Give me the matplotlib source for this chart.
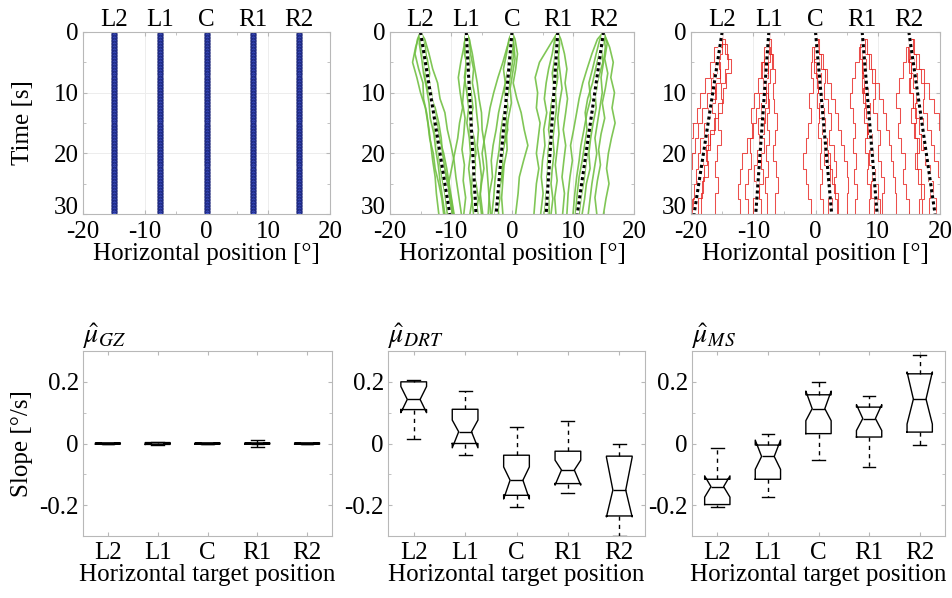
import numpy as np
import matplotlib
matplotlib.use('Agg')
import matplotlib.pyplot as plt
from matplotlib.ticker import MultipleLocator, FixedLocator, FixedFormatter

plt.rcParams['font.family'] = ['Liberation Serif', 'DejaVu Serif']
plt.rcParams['mathtext.fontset'] = 'stix'
plt.rcParams['axes.unicode_minus'] = False

labels = ['L2', 'L1', 'C', 'R1', 'R2']
targets = [-15, -7.5, 0, 7.5, 15]

# gaze (GZ) samples: eyes stay on the target
gz_time = np.arange(0, 30.01, 0.25)

# sample times [s] of the traces (three recording grids)
t_a = [0, 2.5, 5, 7.5, 10, 12.5, 15, 17.5, 20, 22.5, 25, 27.5, 30]
t_b = [0, 1.2, 3.6, 6.1, 8.4, 11.0, 13.3, 16.1, 18.7, 21.2, 23.9, 26.6, 30]
t_c = [0, 1.9, 4.4, 6.8, 9.3, 11.7, 14.2, 16.8, 19.4, 21.9, 24.5, 27.3, 30]
t_grids = [t_a, t_b, t_c]

# DRT traces, one list of traces per target
drt_L2 = [
    [-15, -15.8, -16.3, -15.6, -15.0, -14.2, -13.8, -13.5, -12.9, -12.6, -12.0, -11.5, -11.2],
    [-15, -14.3, -13.6, -13.0, -12.2, -11.8, -11.0, -10.6, -10.0, -9.5, -9.2, -8.8, -8.3],
    [-15, -15.2, -14.8, -14.5, -14.0, -13.6, -13.4, -12.8, -12.5, -12.1, -11.8, -11.4, -11.0],
    [-15, -14.6, -14.4, -13.9, -13.2, -12.9, -12.3, -11.9, -11.2, -10.7, -10.3, -9.9, -9.5],
    [-15, -15.5, -15.9, -15.3, -14.6, -14.5, -14.0, -13.6, -13.3, -13.0, -12.6, -12.4, -12.0],
    [-15, -14.8, -13.9, -13.5, -13.8, -13.1, -12.7, -12.2, -12.0, -11.3, -10.7, -10.0, -9.6],
    [-15, -14.2, -14.0, -14.3, -13.6, -12.6, -12.0, -11.6, -11.4, -11.0, -10.4, -10.3, -9.8],
    [-15, -15.1, -14.6, -14.0, -13.5, -13.3, -12.9, -12.7, -12.2, -11.9, -11.5, -11.0, -10.6],
]
drt_L1 = [
    [-7.5, -7.9, -8.4, -8.8, -8.5, -8.1, -8.6, -8.9, -9.4, -9.9, -10.4, -10.1, -9.7],
    [-7.5, -7.0, -6.5, -6.1, -5.7, -5.4, -5.0, -4.9, -4.5, -4.2, -4.0, -3.8, -3.5],
    [-7.5, -7.6, -7.3, -7.0, -7.2, -6.8, -6.5, -6.6, -6.3, -6.0, -6.2, -5.9, -5.6],
    [-7.5, -7.2, -7.5, -7.8, -7.4, -7.1, -7.4, -7.0, -6.8, -7.1, -6.8, -6.5, -6.9],
    [-7.5, -7.0, -6.8, -6.3, -6.5, -6.0, -5.8, -5.5, -5.7, -5.3, -5.0, -5.2, -4.8],
    [-7.5, -7.8, -7.4, -7.6, -7.9, -8.1, -7.7, -7.9, -8.2, -7.8, -8.0, -7.6, -7.9],
    [-7.5, -7.3, -6.9, -7.1, -6.7, -6.4, -6.9, -6.2, -5.9, -6.4, -5.9, -5.5, -5.9],
    [-7.5, -7.7, -7.8, -7.2, -6.9, -7.2, -6.8, -6.9, -6.6, -6.2, -6.5, -6.7, -6.3],
]
drt_C = [
    [0, -0.8, -1.5, -2.3, -3.0, -3.6, -4.0, -4.5, -4.9, -4.6, -5.0, -5.3, -5.0],
    [0, 0.5, 0.9, 0.6, 0.2, 0.8, 1.5, 2.0, 2.6, 1.9, 1.2, 1.0, 0.6],
    [0, -0.3, -0.2, -0.8, -1.2, -1.0, -1.5, -1.9, -2.1, -2.5, -2.8, -3.0, -3.3],
    [0, 0.2, -0.3, -0.4, -0.6, -1.2, -1.0, -1.4, -1.5, -1.9, -2.1, -2.0, -2.4],
    [0, -0.5, -0.9, -1.4, -1.1, -1.7, -2.2, -2.6, -3.1, -3.4, -3.2, -3.7, -3.9],
    [0, 0.3, 0.5, 0.1, -0.3, -0.1, -0.6, -0.9, -0.8, -1.3, -1.5, -1.7, -1.5],
    [0, -0.2, -0.6, -0.5, -0.9, -0.7, -1.2, -1.1, -1.6, -1.5, -2.0, -2.4, -2.2],
    [0, 0.1, 0.3, -0.1, -0.5, -0.8, -1.1, -0.7, -1.3, -1.8, -1.6, -2.3, -2.8],
]
drt_R1 = [
    [7.5, 6.0, 4.5, 3.8, 4.2, 4.0, 4.6, 4.3, 4.0, 4.4, 4.0, 3.8, 3.6],
    [7.5, 8.0, 8.6, 9.0, 8.7, 9.1, 8.8, 8.4, 8.8, 8.5, 8.2, 8.6, 8.3],
    [7.5, 7.2, 7.0, 6.6, 6.9, 6.5, 6.2, 6.5, 6.1, 5.8, 6.0, 5.6, 5.3],
    [7.5, 7.6, 7.3, 7.5, 7.1, 7.3, 7.0, 6.7, 6.9, 6.6, 6.4, 6.7, 6.4],
    [7.5, 7.0, 6.6, 6.0, 5.6, 5.3, 5.7, 5.2, 5.4, 5.0, 4.8, 5.1, 4.7],
    [7.5, 7.8, 7.6, 7.9, 8.2, 7.8, 7.5, 7.7, 7.4, 7.1, 7.4, 7.0, 7.2],
    [7.5, 7.4, 7.7, 7.2, 6.8, 6.4, 6.6, 6.2, 5.9, 6.2, 5.8, 5.5, 5.8],
    [7.5, 7.1, 7.3, 6.9, 7.1, 6.8, 6.3, 6.0, 6.4, 6.1, 5.7, 6.0, 6.1],
]
drt_R2 = [
    [15, 16.0, 16.6, 16.2, 16.8, 16.4, 16.9, 16.3, 15.8, 15.5, 15.9, 15.4, 15.0],
    [15, 14.0, 13.1, 12.3, 11.6, 11.0, 10.6, 10.1, 9.6, 9.9, 9.5, 9.2, 9.0],
    [15, 14.8, 14.5, 14.0, 13.9, 13.4, 13.0, 12.8, 12.4, 12.1, 11.8, 11.3, 11.0],
    [15, 15.3, 15.0, 14.6, 14.8, 14.4, 14.0, 13.6, 13.9, 13.5, 13.1, 12.8, 12.5],
    [15, 14.4, 13.8, 13.2, 12.6, 12.9, 12.3, 11.8, 11.3, 11.0, 10.6, 10.3, 10.0],
    [15, 15.6, 15.2, 15.7, 15.3, 14.8, 15.2, 14.6, 14.2, 14.5, 14.0, 13.6, 13.9],
    [15, 14.6, 14.9, 14.2, 13.6, 13.8, 13.3, 12.9, 12.6, 12.8, 12.2, 11.9, 11.5],
    [15, 15.2, 14.3, 13.7, 13.2, 12.4, 12.0, 12.3, 11.9, 11.5, 11.0, 10.7, 10.4],
]

# MS traces
ms_L2 = [
    [-15, -15.6, -16.2, -16.8, -17.5, -18.2, -18.9, -19.4, -19.8, -20.3, -20.8, -21, -21],
    [-15, -14.5, -14.0, -14.6, -15.2, -15.0, -15.6, -15.2, -15.8, -16.1, -15.7, -16.2, -16.0],
    [-15, -15.4, -15.9, -16.5, -16.2, -16.9, -17.5, -17.2, -18.0, -18.6, -19.1, -19.6, -20.0],
    [-15, -16.3, -17.0, -17.8, -18.5, -19.0, -19.6, -20.2, -20.5, -20.2, -20.6, -20.4, -20.8],
    [-15, -15.0, -15.5, -15.3, -16.0, -16.6, -16.2, -17.0, -17.6, -17.3, -18.0, -18.4, -18.8],
    [-15, -14.2, -13.5, -14.3, -14.8, -15.6, -16.3, -16.9, -17.4, -17.9, -18.3, -18.9, -19.3],
    [-15, -15.7, -15.4, -16.1, -16.8, -17.3, -17.9, -18.5, -18.9, -19.2, -19.5, -19.8, -20.1],
]
ms_L1 = [
    [-7.5, -7.9, -8.6, -9.3, -9.9, -10.4, -10.2, -11.0, -11.8, -12.2, -12.5, -12.1, -12.3],
    [-7.5, -7.2, -6.8, -6.5, -6.9, -6.6, -6.2, -6.5, -6.8, -6.4, -6.1, -6.5, -6.2],
    [-7.5, -7.7, -7.6, -8.1, -8.0, -8.5, -8.3, -8.9, -8.7, -9.2, -9.0, -9.5, -9.4],
    [-7.5, -8.2, -8.8, -8.5, -9.1, -9.6, -10.0, -10.6, -10.3, -10.9, -11.3, -10.8, -11.0],
    [-7.5, -7.4, -7.0, -7.3, -7.6, -7.4, -7.8, -7.5, -8.0, -7.7, -8.1, -7.8, -8.2],
    [-7.5, -7.8, -8.2, -7.9, -8.4, -8.8, -9.2, -9.0, -9.4, -9.8, -9.6, -10.1, -10.4],
    [-7.5, -7.3, -7.6, -7.9, -7.7, -8.1, -8.6, -8.3, -8.7, -8.5, -9.0, -8.8, -9.1],
]
ms_C = [
    [0, -0.5, -0.8, -0.4, -1.0, -0.7, -1.2, -1.6, -2.0, -1.5, -1.2, -0.8, -1.0],
    [0, 0.6, 1.2, 1.8, 2.5, 3.1, 3.6, 4.1, 4.6, 5.0, 5.3, 5.1, 5.5],
    [0, 0.2, 0.5, 0.9, 0.7, 1.2, 1.6, 1.4, 2.0, 2.3, 2.1, 2.6, 2.9],
    [0, -0.2, 0.1, 0.4, 0.2, 0.6, 0.4, 0.9, 0.7, 1.1, 0.8, 1.2, 1.0],
    [0, 0.4, 0.9, 1.5, 1.3, 2.0, 2.5, 2.2, 2.9, 3.3, 3.0, 3.6, 3.9],
    [0, 0.1, -0.2, 0.3, 0.8, 0.5, 1.1, 1.6, 1.3, 1.9, 2.4, 2.0, 2.5],
    [0, 0.3, 0.6, 0.4, 1.0, 1.4, 1.2, 1.8, 2.3, 2.7, 3.1, 3.5, 3.3],
]
ms_R1 = [
    [7.5, 7.0, 6.3, 5.8, 5.5, 6.0, 6.3, 6.0, 6.5, 6.2, 6.6, 6.4, 6.8],
    [7.5, 8.2, 8.9, 9.6, 10.2, 10.8, 11.3, 11.8, 12.1, 12.5, 12.8, 13.0, 12.7],
    [7.5, 7.8, 8.1, 7.9, 8.4, 8.7, 8.5, 9.0, 9.3, 9.1, 9.6, 9.9, 10.2],
    [7.5, 7.4, 7.7, 7.5, 8.0, 7.8, 8.2, 8.0, 8.5, 8.3, 8.7, 8.6, 9.0],
    [7.5, 8.0, 8.6, 9.0, 9.5, 9.2, 9.8, 10.3, 10.0, 10.6, 11.0, 10.7, 11.2],
    [7.5, 7.2, 7.5, 7.9, 7.6, 8.1, 8.4, 8.8, 8.6, 9.1, 8.9, 9.4, 9.6],
    [7.5, 7.7, 7.4, 7.8, 8.2, 8.6, 8.3, 8.7, 9.2, 9.6, 10.0, 10.4, 10.1],
]
ms_R2 = [
    [15, 14.6, 14.0, 13.4, 13.0, 13.6, 13.3, 13.8, 14.3, 14.0, 14.6, 15.0, 14.7],
    [15, 15.8, 16.6, 17.5, 18.3, 19.0, 19.8, 20.3, 20.8, 21, 21, 21, 21],
    [15, 15.3, 15.9, 16.3, 16.1, 16.7, 17.2, 17.0, 17.6, 18.0, 18.4, 18.2, 18.7],
    [15, 15.0, 15.4, 15.2, 15.7, 16.1, 15.8, 16.3, 16.0, 16.5, 16.9, 16.6, 17.1],
    [15, 15.6, 16.2, 16.9, 17.5, 17.2, 17.9, 18.5, 19.0, 19.6, 20.1, 20.5, 20.3],
    [15, 15.2, 15.0, 15.6, 16.3, 16.0, 16.6, 17.3, 17.8, 18.4, 18.9, 19.4, 19.9],
    [15, 14.8, 15.3, 15.1, 15.6, 15.4, 16.0, 16.6, 16.3, 16.9, 17.4, 17.1, 17.6],
]

# fitted mean lines: position at t=0 and t=30
drt_mean_end = [-10.2, -5.9, -2.6, 5.6, 10.7]
ms_mean_end = [-19.5, -9.6, 2.6, 9.9, 19.2]

# slope box statistics [deg/s]: whislo, q1, cilo, med, cihi, q3, whishi
gz_box = [
    [-0.003, -0.002, -0.001, 0.0, 0.001, 0.002, 0.003],
    [-0.004, -0.003, -0.001, 0.0, 0.001, 0.003, 0.004],
    [-0.003, -0.002, -0.001, 0.0, 0.001, 0.002, 0.003],
    [-0.010, -0.002, -0.001, 0.0, 0.001, 0.002, 0.010],
    [-0.003, -0.002, -0.001, 0.0, 0.001, 0.002, 0.003],
]
drt_box = [
    [0.015, 0.11, 0.10, 0.143, 0.185, 0.20, 0.205],
    [-0.036, 0.0, -0.014, 0.038, 0.076, 0.111, 0.171],
    [-0.205, -0.168, -0.18, -0.119, -0.076, -0.038, 0.052],
    [-0.16, -0.13, -0.135, -0.086, -0.054, -0.025, 0.072],
    [-0.30, -0.235, -0.238, -0.151, -0.045, -0.041, 0.0],
]
ms_box = [
    [-0.205, -0.198, -0.174, -0.14, -0.105, -0.116, -0.016],
    [-0.174, -0.116, -0.084, -0.042, 0.011, -0.005, 0.032],
    [-0.055, 0.032, 0.074, 0.113, 0.17, 0.158, 0.198],
    [-0.076, 0.021, 0.042, 0.081, 0.126, 0.118, 0.153],
    [-0.005, 0.037, 0.063, 0.144, 0.232, 0.226, 0.287],
]

green = '#72c044'
red = '#e8231f'
spine_c = '#b8b8b8'
TICK_FS = 18
LABEL_FS = 18

fig = plt.figure(figsize=(9.52, 5.98), dpi=100)
W, H = 952.0, 598.0

def add_ax(x0, x1, y0, y1):
    return fig.add_axes([x0 / W, 1 - y1 / H, (x1 - x0) / W, (y1 - y0) / H])

top_axes = [add_ax(83, 330, 32, 214), add_ax(390, 634, 32, 214), add_ax(691, 940, 32, 214)]
bot_axes = [add_ax(83, 332, 351, 536), add_ax(388, 645, 351, 536), add_ax(692, 945, 351, 536)]

def style(ax):
    for s in ax.spines.values():
        s.set_color(spine_c)
        s.set_linewidth(0.8)
    ax.tick_params(which='both', direction='in', color=spine_c, top=True, right=True,
                   labelsize=TICK_FS)
    ax.tick_params(axis='x', pad=4)
    ax.tick_params(axis='y', pad=3)
    ax.tick_params(which='major', length=3)
    ax.tick_params(which='minor', length=2)

# --- top row: traces ---
for i, ax in enumerate(top_axes):
    style(ax)
    ax.tick_params(axis='x', pad=5)
    ax.set_xlim(-20, 20)
    ax.set_ylim(30, 0)
    ax.xaxis.set_major_locator(FixedLocator([-20, -10, 0, 10, 20]))
    ax.xaxis.set_minor_locator(MultipleLocator(5))
    ax.yaxis.set_major_locator(FixedLocator([0, 10, 20, 30]))
    ax.yaxis.set_minor_locator(MultipleLocator(5))
    # lift the "30" label a little so it clears the "-20" below it
    ax.yaxis.get_major_ticks()[-1].label1.set_verticalalignment('baseline')
    ax.grid(True, which='major', color='#ededed', linewidth=0.7)
    ax.set_axisbelow(True)
    ax.set_xlabel('Horizontal position [°]', fontsize=LABEL_FS, labelpad=0)
    if i == 0:
        ax.set_ylabel('Time [s]', fontsize=LABEL_FS)
        ax.yaxis.set_label_coords(-0.2, 0.5)
    sec = ax.secondary_xaxis('top')
    sec.set_xticks(targets, labels)
    sec.tick_params(length=0, labelsize=TICK_FS, pad=1)
    sec.spines['top'].set_visible(False)

ax = top_axes[0]
for x in targets:
    ax.plot(np.full(gz_time.size, x), gz_time, 'o', ms=3.6, mfc='#4256d0', mec='#1a2478',
            mew=0.7)

ax = top_axes[1]
for traces in [drt_L2, drt_L1, drt_C, drt_R1, drt_R2]:
    for k, tr in enumerate(traces):
        ax.plot(tr, t_grids[k % 3], color=green, lw=1.2, alpha=0.9)
for x0, x1 in zip(targets, drt_mean_end):
    ax.plot([x0, x1], [0, 30], color='white', lw=2.2)
    ax.plot([x0, x1], [0, 30], color='black', lw=2.2, ls=(0, (1, 1)))

ax = top_axes[2]
for traces in [ms_L2, ms_L1, ms_C, ms_R1, ms_R2]:
    for k, tr in enumerate(traces):
        ax.plot(tr, t_grids[k % 3], color=red, lw=0.75, alpha=0.8, drawstyle='steps-pre')
for x0, x1 in zip(targets, ms_mean_end):
    ax.plot([x0, x1], [0, 30], color='white', lw=2.2)
    ax.plot([x0, x1], [0, 30], color='black', lw=2.2, ls=(0, (1, 1)))

# --- bottom row: slope boxplots ---
titles = [r'$\hat{\mu}_{GZ}$', r'$\hat{\mu}_{DRT}$', r'$\hat{\mu}_{MS}$']
for i, (ax, rows) in enumerate(zip(bot_axes, [gz_box, drt_box, ms_box])):
    style(ax)
    stats = []
    for lab, r in zip(labels, rows):
        stats.append(dict(label=lab, whislo=r[0], q1=r[1], cilo=r[2], med=r[3],
                          cihi=r[4], q3=r[5], whishi=r[6], fliers=[]))
    ax.bxp(stats, positions=[1, 2, 3, 4, 5], widths=0.5, shownotches=True,
           showfliers=False, capwidths=0.25,
           boxprops=dict(color='black', lw=1.0),
           medianprops=dict(color='black', lw=1.0),
           whiskerprops=dict(color='black', lw=1.0, ls=(0, (3, 3))),
           capprops=dict(color='black', lw=1.0))
    ax.set_xlim(0.5, 5.5)
    ax.set_ylim(-0.3, 0.3)
    ax.xaxis.set_major_locator(FixedLocator([1, 2, 3, 4, 5]))
    ax.xaxis.set_major_formatter(FixedFormatter(labels))
    ax.yaxis.set_major_locator(FixedLocator([-0.2, 0, 0.2]))
    ax.yaxis.set_major_formatter(FixedFormatter(['-0.2', '0', '0.2']))
    ax.yaxis.set_minor_locator(MultipleLocator(0.1))
    ax.set_xlabel('Horizontal target position', fontsize=LABEL_FS, labelpad=0)
    ax.set_title(titles[i], loc='left', fontsize=20, pad=3)
    if i == 0:
        ax.set_ylabel('Slope [°/s]', fontsize=LABEL_FS)
        ax.yaxis.set_label_coords(-0.2, 0.5)

fig.savefig('out.png', dpi=100)
